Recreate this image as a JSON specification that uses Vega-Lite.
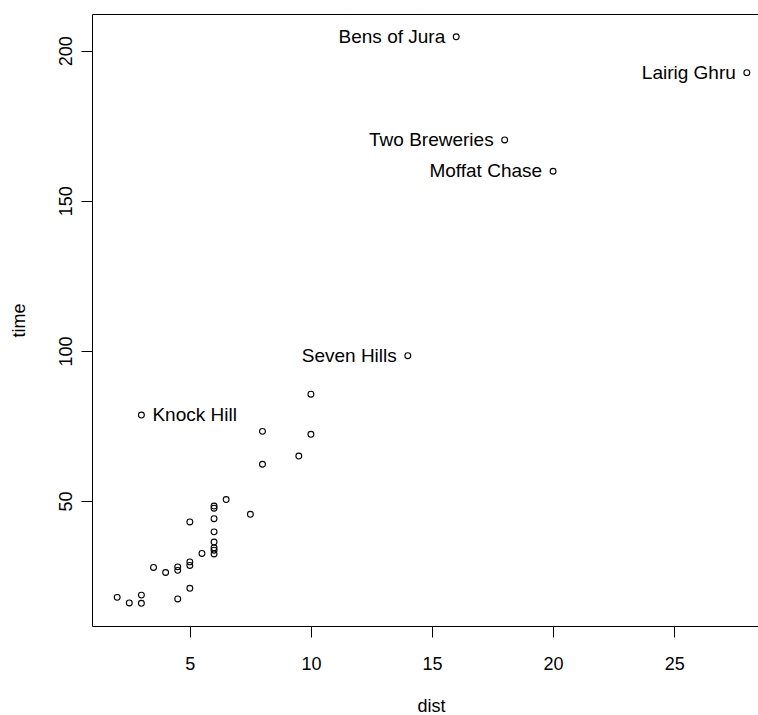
{
  "$schema": "https://vega.github.io/schema/vega-lite/v6.json",
  "autosize": {"type": "none"},
  "padding": {"left": 92, "top": 14, "right": 0, "bottom": 89},
  "width": 680,
  "height": 612,
  "background": "white",
  "config": {
    "view": {"stroke": "black", "strokeWidth": 1},
    "font": "Liberation Sans",
    "axis": {
      "grid": false,
      "domain": false,
      "ticks": true,
      "tickColor": "black",
      "tickSize": 11,
      "tickWidth": 1,
      "labelFont": "Liberation Sans",
      "labelFontSize": 18,
      "labelColor": "black",
      "titleFont": "Liberation Sans",
      "titleFontSize": 18,
      "titleFontWeight": "normal",
      "titleColor": "black"
    }
  },
  "data": {
    "values": [
      {"name": "Greenmantle", "dist": 2.5, "time": 16.083},
      {"name": "Carnethy", "dist": 6, "time": 48.35},
      {"name": "Craig Dunain", "dist": 6, "time": 33.65},
      {"name": "Ben Rha", "dist": 7.5, "time": 45.6},
      {"name": "Ben Lomond", "dist": 8, "time": 62.267},
      {"name": "Goatfell", "dist": 8, "time": 73.217},
      {"name": "Bens of Jura", "dist": 16, "time": 204.617},
      {"name": "Cairnpapple", "dist": 6, "time": 36.367},
      {"name": "Scolty", "dist": 5, "time": 29.75},
      {"name": "Traprain", "dist": 6, "time": 39.75},
      {"name": "Lairig Ghru", "dist": 28, "time": 192.667},
      {"name": "Dollar", "dist": 5, "time": 43.05},
      {"name": "Lomonds", "dist": 9.5, "time": 65.0},
      {"name": "Cairn Table", "dist": 6, "time": 44.133},
      {"name": "Eildon Two", "dist": 4.5, "time": 26.933},
      {"name": "Cairngorm", "dist": 10, "time": 72.25},
      {"name": "Seven Hills", "dist": 14, "time": 98.417},
      {"name": "Knock Hill", "dist": 3, "time": 78.65},
      {"name": "Black Hill", "dist": 4.5, "time": 17.417},
      {"name": "Creag Beag", "dist": 5.5, "time": 32.567},
      {"name": "Kildcon Hill", "dist": 3, "time": 15.95},
      {"name": "Meall Ant-Suidhe", "dist": 3.5, "time": 27.9},
      {"name": "Half Ben Nevis", "dist": 6, "time": 47.633},
      {"name": "Cow Hill", "dist": 2, "time": 17.933},
      {"name": "N Berwick Law", "dist": 3, "time": 18.683},
      {"name": "Creag Dubh", "dist": 4, "time": 26.217},
      {"name": "Burnswark", "dist": 6, "time": 34.433},
      {"name": "Largo Law", "dist": 5, "time": 28.567},
      {"name": "Criffel", "dist": 6.5, "time": 50.5},
      {"name": "Acmony", "dist": 5, "time": 20.95},
      {"name": "Ben Nevis", "dist": 10, "time": 85.583},
      {"name": "Knockfarrel", "dist": 6, "time": 32.383},
      {"name": "Two Breweries", "dist": 18, "time": 170.25},
      {"name": "Cockleroi", "dist": 4.5, "time": 28.1},
      {"name": "Moffat Chase", "dist": 20, "time": 159.833}
    ]
  },
  "encoding": {
    "x": {
      "field": "dist",
      "type": "quantitative",
      "title": "dist",
      "scale": {"domain": [0.96, 29.04], "nice": false, "zero": false},
      "axis": {
        "values": [5, 10, 15, 20, 25],
        "labelBaseline": "alphabetic",
        "labelPadding": 32.5,
        "labelFlush": false,
        "titleBaseline": "alphabetic",
        "titleY": 85,
        "titleX": 339
      }
    },
    "y": {
      "field": "time",
      "type": "quantitative",
      "title": "time",
      "scale": {"domain": [8.4, 212.2], "nice": false, "zero": false},
      "axis": {
        "values": [50, 100, 150, 200],
        "labelAngle": 270,
        "labelAlign": "center",
        "labelBaseline": "alphabetic",
        "labelPadding": 9.5,
        "labelFlush": false,
        "titleAngle": 270,
        "titleAlign": "center",
        "titleBaseline": "alphabetic",
        "titleX": -68,
        "titleY": 306
      }
    }
  },
  "layer": [
    {
      "mark": {"type": "point", "shape": "circle", "filled": false, "stroke": "black", "strokeWidth": 1.1, "size": 34, "opacity": 1}
    },
    {
      "transform": [{"filter": "datum.name == 'Knock Hill'"}],
      "mark": {"type": "text", "align": "left", "baseline": "middle", "dx": 11, "fontSize": 19, "font": "Liberation Sans", "color": "black"},
      "encoding": {"text": {"field": "name"}}
    },
    {
      "transform": [{"filter": {"field": "name", "oneOf": ["Bens of Jura", "Lairig Ghru", "Two Breweries", "Moffat Chase", "Seven Hills"]}}],
      "mark": {"type": "text", "align": "right", "baseline": "middle", "dx": -11, "fontSize": 19, "font": "Liberation Sans", "color": "black"},
      "encoding": {"text": {"field": "name"}}
    }
  ]
}
